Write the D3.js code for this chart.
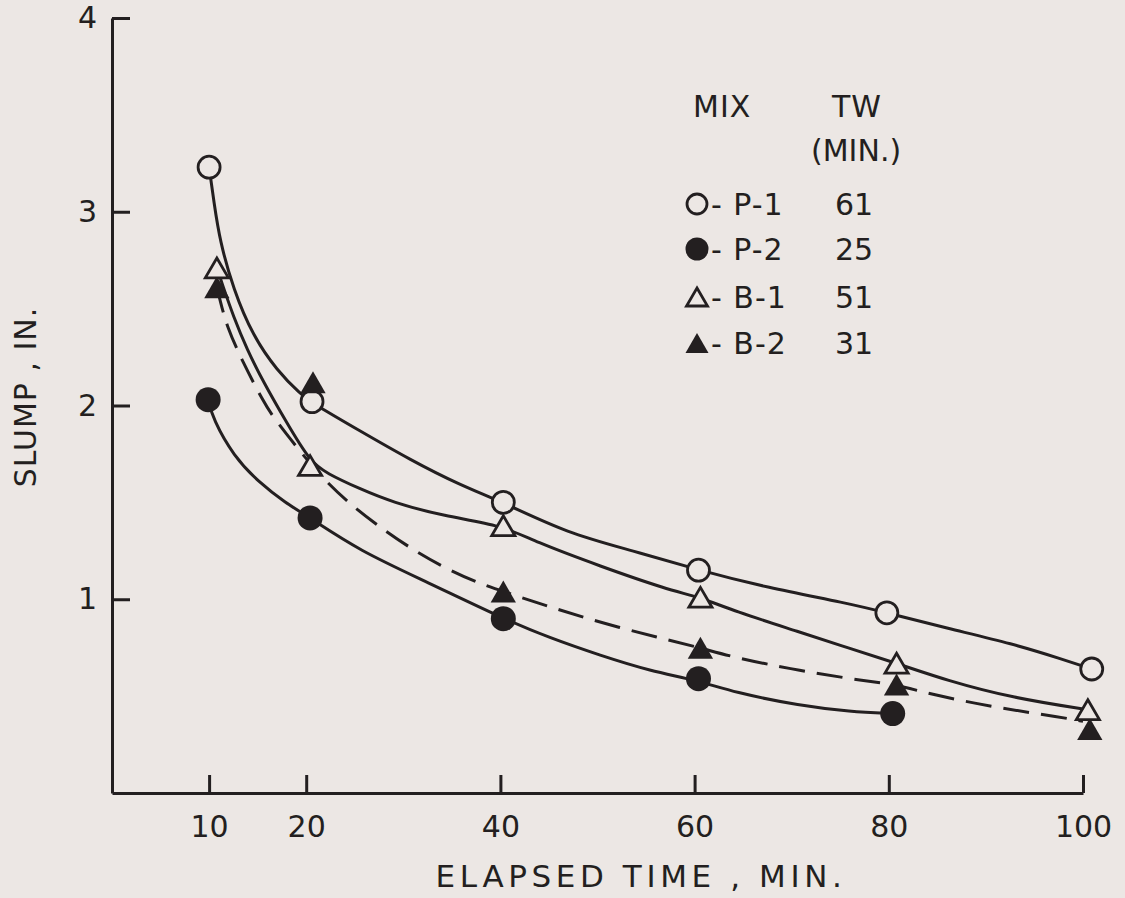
<!DOCTYPE html>
<html>
<head>
<meta charset="utf-8">
<script src="https://cdn.jsdelivr.net/npm/d3@7"></script>
<style>
  html, body { margin: 0; padding: 0; background: #ece7e4; }
  svg { display: block; }
  text { font-family: "DejaVu Sans", sans-serif; fill: #231f20; }
</style>
</head>
<body>
<svg id="chart" width="1125" height="898"></svg>
<script>
// measured points (elapsed time, min / slump, in.)
var p1Time = [10, 20.6, 40.3, 60.4, 79.8, 100.9];
var p1Slump = [3.23, 2.02, 1.50, 1.15, 0.93, 0.64];
var p2Time = [9.9, 20.4, 40.3, 60.4, 80.4];
var p2Slump = [2.03, 1.42, 0.90, 0.59, 0.41];
var b1Time = [10.8, 20.4, 40.3, 60.6, 80.8, 100.5];
var b1Slump = [2.71, 1.69, 1.38, 1.01, 0.67, 0.43];
var b2Time = [10.8, 20.7, 40.3, 60.6, 80.8, 100.7];
var b2Slump = [2.61, 2.12, 1.04, 0.75, 0.56, 0.33];

// hand-fitted curves
var p1CurveTime = [10.0, 10.5, 11.1, 12.5, 14.5, 17.0, 19.4, 20.7, 25.5, 30.7, 35.8, 40.3, 46.9, 53.7, 60.4, 67.5, 75.7, 79.8, 86.0, 92.8, 97.9, 100.9];
var p1CurveSlump = [3.23, 3.05, 2.85, 2.60, 2.36, 2.18, 2.06, 2.01, 1.87, 1.72, 1.59, 1.50, 1.34, 1.25, 1.15, 1.06, 0.98, 0.93, 0.85, 0.77, 0.69, 0.64];
var p2CurveTime = [9.9, 10.4, 12.5, 15.2, 17.8, 20.4, 25.5, 32.4, 40.3, 45.1, 50.3, 55.4, 60.4, 64.0, 70.9, 76.0, 80.4];
var p2CurveSlump = [2.03, 1.93, 1.74, 1.60, 1.50, 1.42, 1.25, 1.09, 0.90, 0.80, 0.71, 0.63, 0.58, 0.52, 0.45, 0.42, 0.41];
var b1CurveTime = [10.8, 11.4, 12.5, 13.9, 15.6, 18.0, 20.4, 22.1, 25.5, 28.9, 34.1, 40.3, 43.4, 50.3, 57.2, 60.6, 64.0, 70.9, 75.7, 80.8, 86.0, 92.8, 100.5];
var b1CurveSlump = [2.71, 2.62, 2.46, 2.29, 2.12, 1.91, 1.71, 1.65, 1.57, 1.50, 1.43, 1.38, 1.30, 1.17, 1.05, 1.01, 0.94, 0.83, 0.75, 0.67, 0.58, 0.49, 0.43];
var b2CurveTime = [10.8, 11.1, 11.8, 13.5, 15.6, 16.6, 19.1, 21.4, 24.3, 27.1, 30.5, 34.3, 37.9, 40.3, 45.1, 50.3, 56.4, 60.6, 64.0, 70.9, 77.3, 80.8, 84.2, 91.1, 97.9, 100.0];
var b2CurveSlump = [2.61, 2.55, 2.41, 2.22, 2.02, 1.94, 1.78, 1.64, 1.50, 1.39, 1.27, 1.16, 1.08, 1.04, 0.96, 0.88, 0.80, 0.75, 0.70, 0.63, 0.58, 0.56, 0.51, 0.44, 0.39, 0.37];

var xTicks = [10, 20, 40, 60, 80, 100];
var yTicks = [1, 2, 3, 4];

var mixNames = ["P-1", "P-2", "B-1", "B-2"];
var twMinutes = [61, 25, 51, 31];

var ink = "#231f20",
    paper = "#ece7e4";

var svg = d3.select("#chart");

var x = d3.scaleLinear().domain([0, 100]).range([112, 1083]);
var y = d3.scaleLinear().domain([0, 4]).range([793, 18]);

// axes
var xAxis = d3.axisBottom(x).tickValues(xTicks).tickSizeInner(-18).tickSizeOuter(0).tickPadding(23);
var yAxis = d3.axisLeft(y).tickValues(yTicks).tickFormat(d3.format("d"))
    .tickSizeInner(-18).tickSizeOuter(0).tickPadding(15);

var gx = svg.append("g").attr("transform", "translate(0," + y(0) + ")").call(xAxis);
var gy = svg.append("g").attr("transform", "translate(" + x(0) + ",0)").call(yAxis);

[gx, gy].forEach(function (g) {
    g.select(".domain").attr("stroke", ink).attr("stroke-width", 3);
    g.selectAll(".tick line").attr("stroke", ink).attr("stroke-width", 3);
    g.selectAll(".tick text").attr("fill", ink).style("font-size", "30px")
        .style("font-family", "DejaVu Sans, sans-serif");
});

// axis titles
svg.append("text")
    .attr("x", 641).attr("y", 887)
    .attr("text-anchor", "middle")
    .style("font-size", "31px")
    .style("letter-spacing", "4.6px")
    .text("ELAPSED TIME , MIN.");

svg.append("text")
    .attr("transform", "translate(36,397) rotate(-90)")
    .attr("text-anchor", "middle")
    .style("font-size", "30px")
    .style("letter-spacing", "1px")
    .text("SLUMP , IN.");

// curves
function zipPts(ts, vs) {
    return ts.map(function (t, i) { return [t, vs[i]]; });
}

var line = d3.line()
    .x(function (d) { return x(d[0]); })
    .y(function (d) { return y(d[1]); })
    .curve(d3.curveBasis);

var curves = [
    { pts: zipPts(p1CurveTime, p1CurveSlump), dash: null },
    { pts: zipPts(p2CurveTime, p2CurveSlump), dash: null },
    { pts: zipPts(b1CurveTime, b1CurveSlump), dash: null },
    { pts: zipPts(b2CurveTime, b2CurveSlump), dash: "26,12" }
];

svg.append("g").selectAll("path")
    .data(curves)
    .join("path")
    .attr("d", function (d) { return line(d.pts); })
    .attr("fill", "none")
    .attr("stroke", ink)
    .attr("stroke-width", 3)
    .attr("stroke-dasharray", function (d) { return d.dash; });

// markers
function trianglePath(w, h) {
    return "M0," + (-h / 2) + "L" + (w / 2) + "," + (h / 2) + "L" + (-w / 2) + "," + (h / 2) + "Z";
}

function drawMarker(g, kind, r) {
    if (kind === "oc") {
        g.append("circle").attr("r", r).attr("fill", paper).attr("stroke", ink).attr("stroke-width", 2.8);
    } else if (kind === "fc") {
        g.append("circle").attr("r", r + 1.5).attr("fill", ink);
    } else if (kind === "ot") {
        g.append("path").attr("d", trianglePath(r * 2.1, r * 1.8))
            .attr("fill", paper).attr("stroke", ink).attr("stroke-width", 2.8).attr("stroke-linejoin", "miter");
    } else {
        g.append("path").attr("d", trianglePath(r * 2.3, r * 2.0)).attr("fill", ink);
    }
}

var series = [
    { kind: "oc", pts: zipPts(p1Time, p1Slump) },
    { kind: "fc", pts: zipPts(p2Time, p2Slump) },
    { kind: "ft", pts: zipPts(b2Time, b2Slump) },
    { kind: "ot", pts: zipPts(b1Time, b1Slump) }
];

series.forEach(function (s) {
    s.pts.forEach(function (p) {
        var g = svg.append("g").attr("transform", "translate(" + x(p[0]) + "," + y(p[1]) + ")");
        drawMarker(g, s.kind, 11);
    });
});

// legend
var legend = svg.append("g");
legend.append("text").attr("x", 693).attr("y", 117).style("font-size", "30px").style("letter-spacing", "1px").text("MIX");
legend.append("text").attr("x", 832).attr("y", 117).style("font-size", "30px").style("letter-spacing", "1px").text("TW");
legend.append("text").attr("x", 811).attr("y", 161).style("font-size", "30px").text("(MIN.)");

var legendKinds = ["oc", "fc", "ot", "ft"];
var legendRows = [204, 249, 297, 343];

mixNames.forEach(function (name, i) {
    var g = legend.append("g").attr("transform", "translate(697," + legendRows[i] + ")");
    drawMarker(g, legendKinds[i], 10);
    legend.append("text").attr("x", 711).attr("y", legendRows[i] + 11)
        .style("font-size", "30px").style("letter-spacing", "1px")
        .text("- " + name);
    legend.append("text").attr("x", 835).attr("y", legendRows[i] + 11)
        .style("font-size", "30px").text(twMinutes[i]);
});
</script>
</body>
</html>
